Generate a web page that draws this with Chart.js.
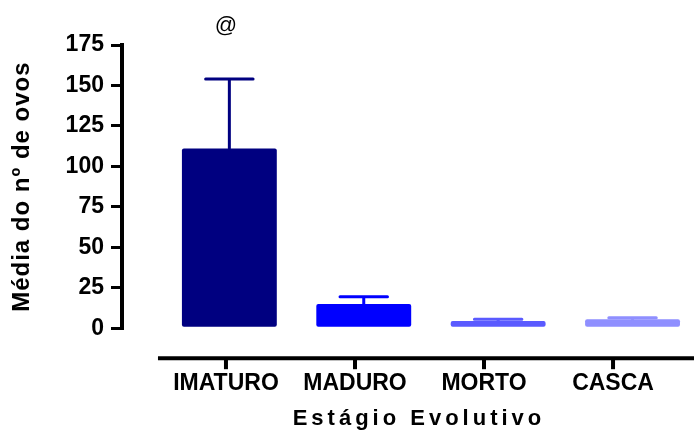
<!DOCTYPE html>
<html>
<head>
<meta charset="utf-8">
<script src="https://cdn.jsdelivr.net/npm/chart.js@4.4.1/dist/chart.umd.min.js"></script>
<style>
html, body { margin: 0; padding: 0; background: #fff; overflow: hidden; }
#wrap { width: 694px; height: 436px; overflow: hidden; }
</style>
</head>
<body>
<div id="wrap"><canvas id="chBars" width="716" height="436"></canvas></div>
<script>
let categories = ['IMATURO', 'MADURO', 'MORTO', 'CASCA'];
let means = [111, 15, 4.5, 5.5];
let errors = [43, 4.5, 1, 1];
let marks = ['@', '', '', ''];
let markLevel = 187;
let yMax = 175;
let yStep = 25;
let colors = ['#000080', '#0000ff', '#5a5aff', '#8f8fff'];

var fontFam = "Arial, 'Liberation Sans', sans-serif";

// upper error bars + the @ mark over the bars
var errorBars = {
  id: 'errorBars',
  afterDatasetsDraw: function(chart) {
    var ctx = chart.ctx;
    var y = chart.scales.y;
    var x2 = chart.scales.x2;
    var meta = chart.getDatasetMeta(0);
    ctx.save();
    ctx.lineWidth = 3;
    ctx.lineCap = 'round';
    meta.data.forEach(function(bar, i) {
      var top = y.getPixelForValue(means[i] + errors[i]);
      var half = bar.width / 4;
      ctx.strokeStyle = colors[i];
      ctx.beginPath();
      ctx.moveTo(bar.x, bar.y);
      ctx.lineTo(bar.x, top);
      ctx.moveTo(bar.x - half, top);
      ctx.lineTo(bar.x + half, top);
      ctx.stroke();
    });
    ctx.fillStyle = '#000';
    ctx.font = '22px ' + fontFam;
    ctx.textAlign = 'center';
    ctx.textBaseline = 'middle';
    marks.forEach(function(m, i) {
      if (m) ctx.fillText(m, x2.getPixelForValue(i), y.getPixelForValue(markLevel));
    });
    ctx.restore();
  }
};

// prism style detached x axis line with its ticks
var xAxisLine = {
  id: 'xAxisLine',
  afterDraw: function(chart) {
    var ctx = chart.ctx;
    var area = chart.chartArea;
    var x2 = chart.scales.x2;
    var yLine = area.bottom + 30;
    ctx.save();
    ctx.strokeStyle = '#000';
    ctx.lineWidth = 4;
    ctx.beginPath();
    ctx.moveTo(area.left + 36, yLine);
    ctx.lineTo(chart.width, yLine);
    ctx.stroke();
    x2.ticks.forEach(function(t, i) {
      var px = x2.getPixelForTick(i);
      ctx.beginPath();
      ctx.moveTo(px, yLine);
      ctx.lineTo(px, yLine + 11);
      ctx.stroke();
    });
    ctx.restore();
  }
};

// wider letter spacing on the axis titles
var spacedTitles = {
  id: 'spacedTitles',
  beforeDraw: function(chart) {
    [['x2', '4px'], ['y', '1px']].forEach(function(p) {
      var s = chart.scales[p[0]];
      if (!s || s._spaced) return;
      var orig = s.drawTitle;
      s.drawTitle = function() {
        var c = this.ctx;
        c.save();
        c.letterSpacing = p[1];
        orig.call(this);
        c.restore();
      };
      s._spaced = true;
    });
  }
};

function fixedTicks(scale) {
  scale.ticks = categories.map(function(c, i) { return { value: i }; });
}

var chBars = document.getElementById('chBars');
new Chart(chBars, {
  type: 'bar',
  data: {
    datasets: [{
      data: means.map(function(v, i) { return { x: i, y: v }; }),
      backgroundColor: colors,
      borderWidth: 0,
      borderRadius: 2,
      borderSkipped: false,
      barPercentage: 0.706,
      categoryPercentage: 1,
      xAxisID: 'x',
      yAxisID: 'y'
    }]
  },
  plugins: [spacedTitles, errorBars, xAxisLine],
  options: {
    responsive: false,
    animation: false,
    devicePixelRatio: 1,
    layout: { padding: { top: 45, left: 0, right: 0, bottom: 0 } },
    plugins: { legend: { display: false }, tooltip: { enabled: false } },
    scales: {
      x: {
        type: 'linear',
        display: false,
        offset: false,
        min: -0.799,
        max: 3.621,
        afterBuildTicks: fixedTicks
      },
      x2: {
        type: 'linear',
        position: 'bottom',
        offset: false,
        min: -0.806,
        max: 3.798,
        afterBuildTicks: fixedTicks,
        // transparent tick marks only push the labels down
        grid: { display: true, offset: false, drawOnChartArea: false, drawTicks: true, tickLength: 42, color: 'rgba(0,0,0,0)' },
        border: { display: false },
        ticks: {
          padding: 0,
          color: '#000',
          autoSkip: false,
          maxRotation: 0,
          font: { family: fontFam, size: 23, weight: 'bold' },
          callback: function(v) { return categories[v] || ''; }
        },
        title: {
          display: true,
          text: 'Estágio Evolutivo',
          color: '#000',
          font: { family: fontFam, size: 22, weight: 'bold' },
          padding: { top: 8, bottom: 3.8 }
        }
      },
      y: {
        min: 0,
        max: yMax,
        ticks: {
          stepSize: yStep,
          padding: 7,
          color: '#000',
          font: { family: fontFam, size: 23, weight: 'bold' }
        },
        grid: { drawOnChartArea: false, drawTicks: true, tickLength: 11, lineWidth: 3, color: '#000' },
        border: { display: true, width: 4, color: '#000' },
        title: {
          display: true,
          text: 'Média do nº de ovos',
          color: '#000',
          font: { family: fontFam, size: 24, weight: 'bold' },
          padding: { top: 7.6, bottom: 22.2 }
        }
      }
    }
  }
});
</script>
</body>
</html>
